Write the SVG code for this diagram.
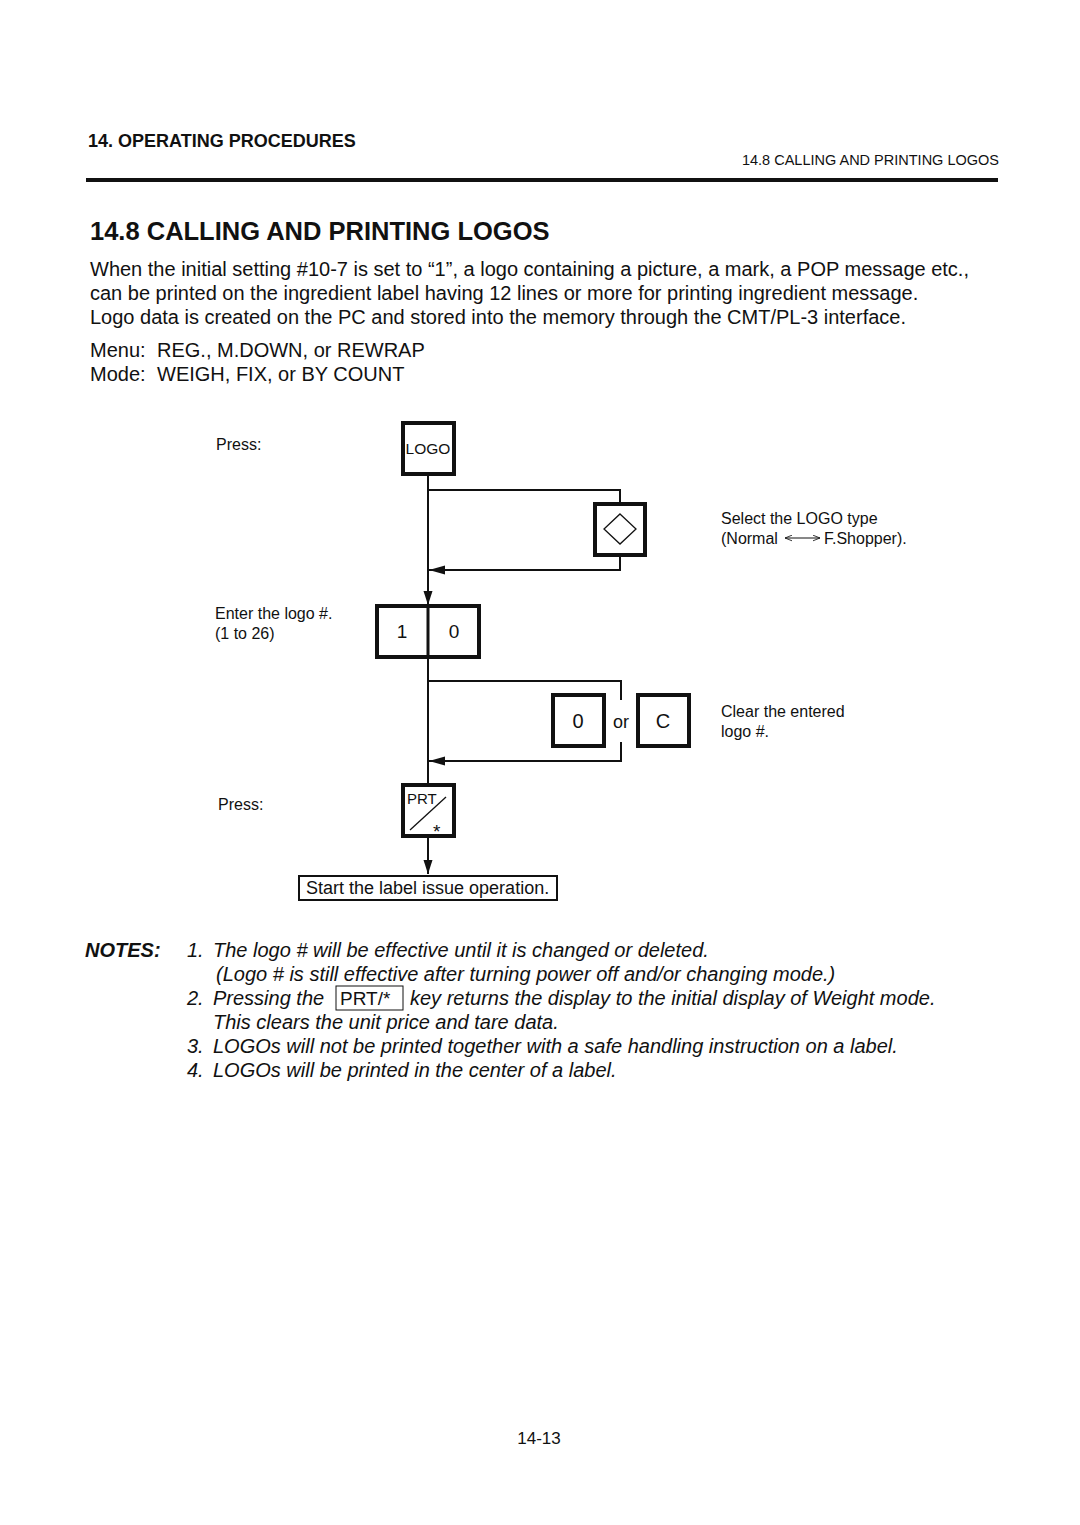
<svg xmlns="http://www.w3.org/2000/svg" width="1080" height="1525" viewBox="0 0 1080 1525">
<style>
text{font-family:"Liberation Sans",Arial,sans-serif;fill:#111}
.key{fill:#fff;stroke:#111;stroke-width:4}
.ln{fill:none;stroke:#111;stroke-width:2}
.body{font-size:20px}
.lbl{font-size:16px}
.note{font-size:20px;font-style:italic}
</style>
<defs>
<marker id="ah" viewBox="0 0 14 10" refX="14" refY="5" markerWidth="14" markerHeight="10" markerUnits="userSpaceOnUse" orient="auto"><path d="M0,0.5 L14,5 L0,9.5 Z" fill="#111"/></marker>
<marker id="ahw" viewBox="0 0 16 10" refX="16" refY="5" markerWidth="16" markerHeight="10" markerUnits="userSpaceOnUse" orient="auto"><path d="M0,0.5 L16,5 L0,9.5 Z" fill="#111"/></marker>
<marker id="sm" viewBox="0 0 10 10" refX="10" refY="5" markerWidth="7" markerHeight="7" markerUnits="userSpaceOnUse" orient="auto-start-reverse"><path d="M0,1 L10,5 L0,9" fill="none" stroke="#111" stroke-width="1.2"/></marker>
</defs>
<rect width="1080" height="1525" fill="#fff"/>
<g id="header">
<text x="88" y="147" font-size="18" font-weight="bold">14. OPERATING PROCEDURES</text>
<text x="999" y="165" font-size="14.5" text-anchor="end">14.8 CALLING AND PRINTING LOGOS</text>
<rect x="86" y="178" width="912" height="4" fill="#111"/>
</g>
<g id="intro">
<text x="90" y="240" font-size="25.5" font-weight="bold">14.8 CALLING AND PRINTING LOGOS</text>
<text x="90" y="276" class="body">When the initial setting #10-7 is set to “1”, a logo containing a picture, a mark, a POP message etc.,</text>
<text x="90" y="300" class="body">can be printed on the ingredient label having 12 lines or more for printing ingredient message.</text>
<text x="90" y="324" class="body">Logo data is created on the PC and stored into the memory through the CMT/PL-3 interface.</text>
<text x="90" y="357" class="body">Menu:</text>
<text x="157" y="357" class="body">REG., M.DOWN, or REWRAP</text>
<text x="90" y="381" class="body">Mode:</text>
<text x="157" y="381" class="body">WEIGH, FIX, or BY COUNT</text>
</g>
<g id="connectors">
<line class="ln" x1="428" y1="475" x2="428" y2="605" marker-end="url(#ah)"/>
<polyline class="ln" points="428,490 620,490 620,503"/>
<polyline class="ln" points="620,556 620,570 429,570" marker-end="url(#ahw)"/>
<line class="ln" x1="428" y1="657" x2="428" y2="785"/>
<polyline class="ln" points="428,681 621,681 621,700"/>
<polyline class="ln" points="621,742 621,761 429,761" marker-end="url(#ahw)"/>
<line class="ln" x1="428" y1="837" x2="428" y2="874" marker-end="url(#ah)"/>
</g>
<g id="logo-key">
<rect class="key" x="403" y="423" width="51" height="51"/>
<text x="428" y="454" font-size="15.5" text-anchor="middle">LOGO</text>
</g>
<g id="label-press1"><text x="216" y="450" class="lbl">Press:</text></g>
<g id="type-key">
<rect class="key" x="595" y="504" width="50" height="51"/>
<path d="M620,514 L636,529 L620,544 L604,529 Z" fill="none" stroke="#111" stroke-width="1.3"/>
</g>
<g id="label-select">
<text x="721" y="524" class="lbl">Select the LOGO type</text>
<text x="721" y="544" class="lbl">(Normal</text>
<line x1="785" y1="538" x2="820" y2="538" stroke="#111" stroke-width="1" marker-start="url(#sm)" marker-end="url(#sm)"/>
<text x="824" y="544" class="lbl">F.Shopper).</text>
</g>
<g id="num-keys">
<rect class="key" x="377" y="606" width="102" height="51"/>
<line x1="428" y1="606" x2="428" y2="657" stroke="#111" stroke-width="3"/>
<text x="402" y="638" font-size="19" text-anchor="middle">1</text>
<text x="454" y="638" font-size="19" text-anchor="middle">0</text>
</g>
<g id="label-enter">
<text x="215" y="619" class="lbl">Enter the logo #.</text>
<text x="215" y="639" class="lbl">(1 to 26)</text>
</g>
<g id="clear-keys">
<rect class="key" x="553" y="695" width="51" height="51"/>
<text x="578" y="728" font-size="20" text-anchor="middle">0</text>
<text x="621" y="728" font-size="18" text-anchor="middle">or</text>
<rect class="key" x="638" y="695" width="51" height="51"/>
<text x="663" y="728" font-size="20" text-anchor="middle">C</text>
</g>
<g id="label-clear">
<text x="721" y="717" class="lbl">Clear the entered</text>
<text x="721" y="737" class="lbl">logo #.</text>
</g>
<g id="label-press2"><text x="218" y="810" class="lbl">Press:</text></g>
<g id="prt-key">
<rect class="key" x="403" y="785" width="51" height="51"/>
<text x="407" y="804" font-size="15">PRT</text>
<line x1="410" y1="830" x2="446" y2="797" stroke="#111" stroke-width="1.3"/>
<text x="433" y="838" font-size="19">*</text>
</g>
<g id="end-box">
<rect x="299" y="876" width="258" height="24" fill="#fff" stroke="#111" stroke-width="2"/>
<text x="306" y="894" font-size="18">Start the label issue operation.</text>
</g>
<g id="notes">
<text x="85" y="957" font-size="20" font-weight="bold" font-style="italic">NOTES:</text>
<text x="187" y="957" class="note">1.</text>
<text x="213" y="957" class="note">The logo # will be effective until it is changed or deleted.</text>
<text x="216" y="981" class="note">(Logo # is still effective after turning power off and/or changing mode.)</text>
<text x="187" y="1005" class="note">2.</text>
<text x="213" y="1005" class="note">Pressing the</text>
<rect x="336" y="986" width="67" height="24" fill="none" stroke="#111" stroke-width="1"/>
<text x="340" y="1005" font-size="19">PRT/*</text>
<text x="410" y="1005" class="note">key returns the display to the initial display of Weight mode.</text>
<text x="213" y="1029" class="note">This clears the unit price and tare data.</text>
<text x="187" y="1053" class="note">3.</text>
<text x="213" y="1053" class="note">LOGOs will not be printed together with a safe handling instruction on a label.</text>
<text x="187" y="1077" class="note">4.</text>
<text x="213" y="1077" class="note">LOGOs will be printed in the center of a label.</text>
</g>
<g id="footer"><text x="539" y="1444" font-size="17" text-anchor="middle">14-13</text></g>
</svg>
